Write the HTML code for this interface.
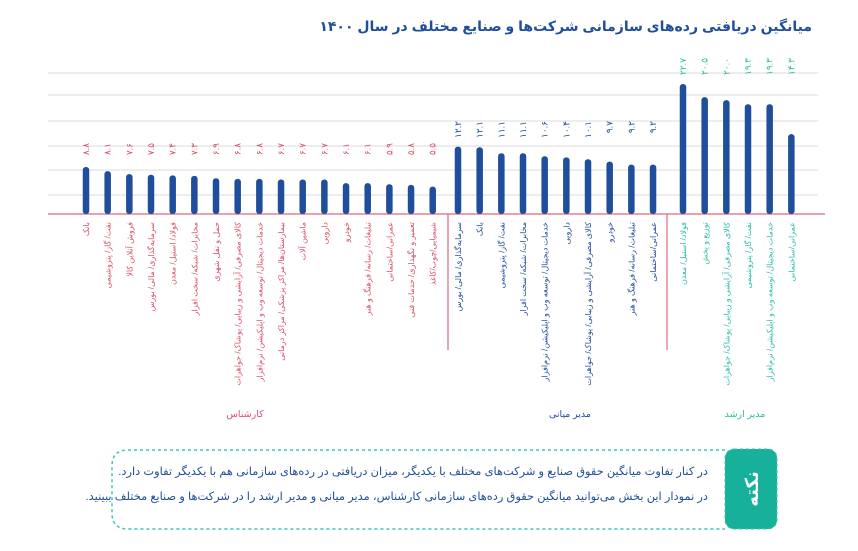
<!DOCTYPE html>
<html><head><meta charset="utf-8"><style>
body{margin:0;background:#fff;}
svg{display:block;font-family:"Liberation Sans","Noto Sans CJK SC","DejaVu Sans",sans-serif;}
</style></head><body>
<svg width="858" height="551" viewBox="0 0 858 551" xmlns="http://www.w3.org/2000/svg">
<text x="812" y="31" text-anchor="start" direction="rtl" font-size="14" font-weight="bold" fill="#1f4e9a">میانگین دریافتی رده‌های سازمانی شرکت‌ها و صنایع مختلف در سال ۱۴۰۰</text>
<g stroke="#e2e2e2" stroke-width="1.2">
<line x1="48" y1="73" x2="818" y2="73"/>
<line x1="48" y1="95" x2="818" y2="95"/>
<line x1="48" y1="121" x2="818" y2="121"/>
<line x1="48" y1="146" x2="818" y2="146"/>
<line x1="48" y1="170" x2="818" y2="170"/>
<line x1="48" y1="195" x2="818" y2="195"/>
</g>
<line x1="48" y1="214" x2="825" y2="214" stroke="#e0687c" stroke-width="1.2"/>
<line x1="448" y1="214" x2="448" y2="350" stroke="#e0687c" stroke-width="1.2"/>
<line x1="667" y1="214" x2="667" y2="350" stroke="#e0687c" stroke-width="1.2"/>
<g id="bars"></g>
<text x="245" y="417" text-anchor="middle" font-size="9.5" fill="#d9506a">کارشناس</text>
<text x="570" y="417" text-anchor="middle" font-size="9.5" fill="#1f4e9a">مدیر میانی</text>
<text x="745" y="417" text-anchor="middle" font-size="9.5" fill="#2bbfa4">مدیر ارشد</text>
<path d="M725 450 H128 Q112 450 112 466 V513 Q112 529 128 529 H725" fill="none" stroke="#3cc7b4" stroke-width="1.5" stroke-dasharray="3,3"/>
<rect x="725" y="449" width="52" height="80" rx="9" fill="#17b09b" stroke="#3cc7b4" stroke-dasharray="3,3"/>
<text transform="translate(758,489) rotate(-90)" text-anchor="middle" direction="rtl" font-size="18" font-weight="bold" fill="#fff">نکته</text>
<text x="708" y="475" text-anchor="start" direction="rtl" font-size="11.4" fill="#1f4e9a">در کنار تفاوت میانگین حقوق صنایع و شرکت‌های مختلف با یکدیگر، میزان دریافتی در رده‌های سازمانی هم با یکدیگر تفاوت دارد.</text>
<text x="708" y="500" text-anchor="start" direction="rtl" font-size="11.4" fill="#1f4e9a">در نمودار این بخش می‌توانید میانگین حقوق رده‌های سازمانی کارشناس، مدیر میانی و مدیر ارشد را در شرکت‌ها و صنایع مختلف ببینید.</text>
</svg>
<script>
var groups=[
{x0:86,c:"#d9506a",vt:143,d:[
["۸.۸",8.8,"بانک"],["۸.۱",8.1,"نفت/ گاز/ پتروشیمی"],["۷.۶",7.6,"فروش آنلاین کالا"],["۷.۵",7.5,"سرمایه‌گذاری/ مالی/ بورس"],["۷.۴",7.4,"فولاد/ استیل/ معدن"],["۷.۳",7.3,"مخابرات/ شبکه/ سخت افزار"],["۶.۹",6.9,"حمل و نقل شهری"],["۶.۸",6.8,"کالای مصرفی/ آرایشی و زیبایی/ پوشاک/ جواهرات"],["۶.۸",6.8,"خدمات دیجیتال/ توسعه وب و اپلیکیشن/ نرم‌افزار"],["۶.۷",6.7,"بیمارستان‌ها/ مراکز پزشکی/ مراکز درمانی"],["۶.۷",6.7,"ماشین آلات"],["۶.۷",6.7,"دارویی"],["۶.۱",6.1,"خودرو"],["۶.۱",6.1,"تبلیغات/ رسانه/ فرهنگ و هنر"],["۵.۹",5.9,"عمرانی/ساختمانی"],["۵.۸",5.8,"تعمیر و نگهداری/ خدمات فنی"],["۵.۵",5.5,"شیمیایی/چوب/کاغذ"]]},
{x0:458,c:"#1f4e9a",vt:121,d:[
["۱۲.۲",12.2,"سرمایه‌گذاری/ مالی/ بورس"],["۱۲.۱",12.1,"بانک"],["۱۱.۱",11.1,"نفت/ گاز/ پتروشیمی"],["۱۱.۱",11.1,"مخابرات/ شبکه/ سخت افزار"],["۱۰.۶",10.6,"خدمات دیجیتال/ توسعه وب و اپلیکیشن/ نرم‌افزار"],["۱۰.۴",10.4,"دارویی"],["۱۰.۱",10.1,"کالای مصرفی/ آرایشی و زیبایی/ پوشاک/ جواهرات"],["۹.۷",9.7,"خودرو"],["۹.۲",9.2,"تبلیغات/ رسانه/ فرهنگ و هنر"],["۹.۲",9.2,"عمرانی/ساختمانی"]]},
{x0:683,c:"#2bbfa4",vt:58,d:[
["۲۲.۷",22.7,"فولاد/ استیل/ معدن"],["۲۰.۵",20.5,"توزیع و پخش"],["۲۰.۰",20.0,"کالای مصرفی/ آرایشی و زیبایی/ پوشاک/ جواهرات"],["۱۹.۳",19.3,"نفت/ گاز/ پتروشیمی"],["۱۹.۳",19.3,"خدمات دیجیتال/ توسعه وب و اپلیکیشن/ نرم‌افزار"],["۱۴.۳",14.3,"عمرانی/ساختمانی"]]}];
var s="";
groups.forEach(function(g){g.d.forEach(function(r,i){
var x=g.x0+i*21.67,h=5.97*r[1]-5.5,top=214-h;
s+='<rect x="'+(x-3.25)+'" y="'+top+'" width="6.5" height="'+h+'" rx="3" fill="#1f4e9a"/>';
s+='<text transform="translate('+(x+3)+','+g.vt+') rotate(-90)" text-anchor="end" font-size="9" fill="'+g.c+'">'+r[0]+'</text>';
s+='<text transform="translate('+(x+3)+',222) rotate(-90)" text-anchor="start" direction="rtl" font-size="8" fill="'+g.c+'">'+r[2]+'</text>';
});});
document.getElementById("bars").innerHTML=s;
</script>
</body></html>
